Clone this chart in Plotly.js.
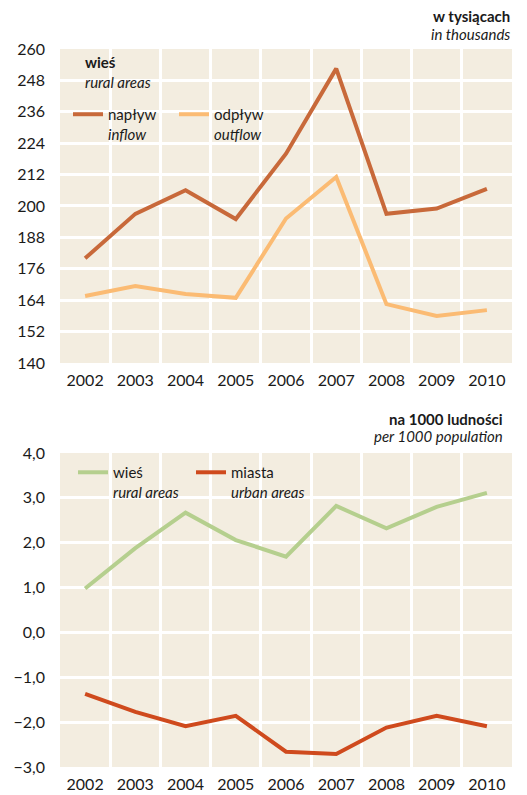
<!DOCTYPE html>
<html>
<head>
<meta charset="utf-8">
<script src="https://cdn.plot.ly/plotly-3.0.1.min.js"></script>
<style>html,body{margin:0;padding:0;background:#fff;}#chart{width:527px;height:795px;}</style>
</head>
<body>
<div id="chart"></div>
<script>
// ---- data ----
var years = ["2002","2003","2004","2005","2006","2007","2008","2009","2010"];
// top chart: rural areas, in thousands
var inflow  = [180, 197, 206, 195, 220, 252.5, 197, 199, 206.5];
var outflow = [165.6, 169.4, 166.4, 164.9, 195.2, 211.1, 162.5, 158, 160.2];
// bottom chart: per 1000 population
var ruralRate = [0.98, 1.88, 2.67, 2.06, 1.69, 2.82, 2.32, 2.8, 3.11];
var urbanRate = [-1.37, -1.77, -2.09, -1.86, -2.66, -2.71, -2.12, -1.86, -2.09];
// labels
var topTicks = [140, 152, 164, 176, 188, 200, 212, 224, 236, 248, 260];
var bottomTicks = [-3, -2, -1, 0, 1, 2, 3, 4];

var FONT = "Lato, 'Open Sans', sans-serif";
var TXT = "#1a1a1a";
var BG = "#f3ede0";

var traces = [
  {x: years, y: inflow, xaxis: "x2", yaxis: "y2", type: "scatter", mode: "lines",
   name: "napływ<br><i>inflow</i>", line: {color: "#c8693a", width: 4}, legend: "legend"},
  {x: years, y: outflow, xaxis: "x2", yaxis: "y2", type: "scatter", mode: "lines",
   name: "odpływ<br><i>outflow</i>", line: {color: "#fbbb73", width: 4}, legend: "legend"},
  {x: years, y: ruralRate, xaxis: "x", yaxis: "y", type: "scatter", mode: "lines",
   name: "wieś<br><i>rural areas</i>", line: {color: "#b5cf8e", width: 4}, legend: "legend2"},
  {x: years, y: urbanRate, xaxis: "x", yaxis: "y", type: "scatter", mode: "lines",
   name: "miasta<br><i>urban areas</i>", line: {color: "#cf4a1d", width: 4}, legend: "legend2"}
];

var xCommon = {
  type: "category", range: [-0.5, 8.5], tickson: "boundaries",
  showgrid: true, gridcolor: "#ffffff", gridwidth: 3,
  ticks: "", showline: false, zeroline: false,
  tickfont: {family: FONT, size: 16, color: TXT}, ticklabelstandoff: 6, fixedrange: true
};
var yCommon = {
  showgrid: true, gridcolor: "#ffffff", gridwidth: 3, zeroline: false,
  ticks: "", showline: false, tickfont: {family: FONT, size: 16, color: TXT},
  ticklabelstandoff: 14, fixedrange: true
};

var layout = {
  width: 527, height: 795,
  margin: {l: 60, r: 15, t: 49, b: 28},
  paper_bgcolor: "#ffffff", plot_bgcolor: BG,
  separators: ", ",
  font: {family: FONT, color: TXT},
  xaxis: Object.assign({}, xCommon, {anchor: "y"}),
  yaxis: Object.assign({}, yCommon, {domain: [0, 0.4373], range: [-3, 4], tickvals: bottomTicks, tickformat: ".1f", anchor: "x"}),
  xaxis2: Object.assign({}, xCommon, {anchor: "y2"}),
  yaxis2: Object.assign({}, yCommon, {domain: [0.5627, 1], range: [140, 260], tickvals: topTicks, anchor: "x2"}),
  showlegend: true,
  legend: {orientation: "h", x: 0.0177, xanchor: "left", y: 0.9318, yanchor: "top",
           bgcolor: "rgba(0,0,0,0)", valign: "top", entrywidth: 61, entrywidthmode: "pixels",
           font: {family: FONT, size: 15, color: TXT}},
  legend2: {orientation: "h", x: 0.0288, xanchor: "left", y: 0.4331, yanchor: "top",
           bgcolor: "rgba(0,0,0,0)", valign: "top", entrywidth: 73, entrywidthmode: "pixels",
           font: {family: FONT, size: 15, color: TXT}},
  annotations: [
    {xref: "paper", yref: "paper", x: 0.05, y: 0.9675, xanchor: "left", yanchor: "middle", showarrow: false, align: "left",
     text: "<b>wieś</b><br><i>rural areas</i>", font: {family: FONT, size: 15, color: TXT}},
    {xref: "paper", yref: "paper", x: 1.0, y: 1.046, xanchor: "right", yanchor: "middle", showarrow: false,
     text: "<b>w tysiącach</b>", font: {family: FONT, size: 15, color: TXT}},
    {xref: "paper", yref: "paper", x: 1.0, y: 1.021, xanchor: "right", yanchor: "middle", showarrow: false,
     text: "<i>in thousands</i>", font: {family: FONT, size: 15, color: TXT}},
    {xref: "paper", yref: "paper", x: 0.9845, y: 0.4847, xanchor: "right", yanchor: "middle", showarrow: false,
     text: "<b>na 1000 ludności</b>", font: {family: FONT, size: 15, color: TXT}},
    {xref: "paper", yref: "paper", x: 0.9845, y: 0.461, xanchor: "right", yanchor: "middle", showarrow: false,
     text: "<i>per 1000 population</i>", font: {family: FONT, size: 15, color: TXT}}
  ]
};

Plotly.newPlot("chart", traces, layout, {displayModeBar: false, staticPlot: true});
</script>
</body>
</html>
